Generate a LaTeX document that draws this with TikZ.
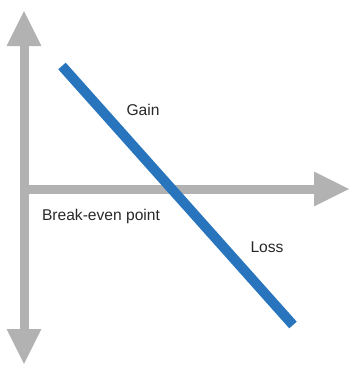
\documentclass[tikz,border=0pt]{standalone}
\usepackage{fontspec}
\setmainfont{Liberation Sans}
\usetikzlibrary{arrows.meta}
\definecolor{axisgray}{RGB}{178,178,178}
\definecolor{lineblue}{RGB}{40,117,190}
\definecolor{txt}{RGB}{40,40,40}
\tikzset{
  axis/.style={draw=axisgray, line width=9pt, -{Triangle[length=36pt,width=32pt]}},
  axisboth/.style={draw=axisgray, line width=9pt, {Triangle[length=36pt,width=32pt]}-{Triangle[length=36pt,width=32pt]}},
  trend/.style={draw=lineblue, line width=10pt},
  lbl/.style={text=txt, font=\fontsize{15.6}{18}\selectfont, inner sep=0pt}
}
\begin{document}
\begin{tikzpicture}[x=1pt,y=-1pt]
\useasboundingbox (0,0) rectangle (350,365);
\coordinate (vtop) at (24,10);
\coordinate (vbot) at (24,365);
\coordinate (hleft) at (20,189);
\coordinate (hright) at (350,189);
\coordinate (ltop) at (62,66);
\coordinate (lbot) at (293,325);
\draw[axisboth] (vbot) -- (vtop);
\draw[axis] (hleft) -- (hright);
\draw[trend] (ltop) -- (lbot);
\node[lbl] (gain) at (143,110) {Gain};
\node[lbl] (be) at (101,216) {Break-even point};
\node[lbl] (loss) at (267,247) {Loss};
\end{tikzpicture}
\end{document}
